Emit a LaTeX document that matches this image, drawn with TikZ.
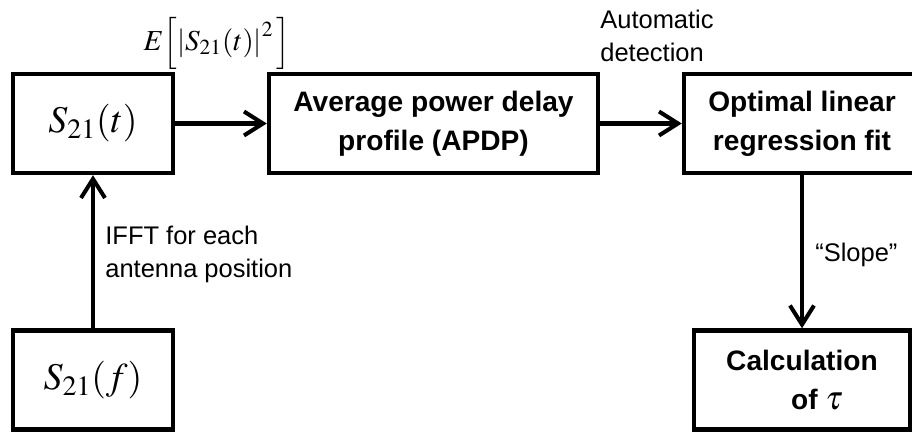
\documentclass[tikz,border=0pt]{standalone}
\usepackage{mathptmx}
\usepackage[no-math]{fontspec}
\setmainfont{Liberation Sans}
\usepackage{tikz}
\usetikzlibrary{arrows.meta}

\begin{document}
\begin{tikzpicture}[
  mbox/.style={
    rectangle, draw=black, line width=2.5pt,
    minimum width=3.2cm, minimum height=1.98cm,
    align=center, font=\fontsize{21.5}{25}\selectfont
  },
  tbox/.style={
    rectangle, draw=black, line width=2.5pt,
    minimum height=1.98cm, inner sep=2pt,
    align=center, font=\fontsize{16}{22}\selectfont\bfseries
  },
  lbl/.style={inner sep=0pt, align=left, font=\fontsize{14.5}{18.5}\selectfont},
  arr/.style={-{Straight Barb[length=3.8mm,width=4.8mm]}, line width=2.3pt}
]
\useasboundingbox (0,0) rectangle (18.24,-8.64);

%=== SIGNAL BOXES ===
\node[mbox] (sf) at (1.86,-7.60) {$S_{21}(f)$};
\node[mbox] (st) at (1.86,-2.47) {$S_{21}(t)$};

%=== PROCESSING STEPS ===
\node[tbox, minimum width=6.58cm] (apdp) at (8.67,-2.47)
  {Average power delay\\profile (APDP)};
\node[tbox, minimum width=4.72cm] (fit) at (16.04,-2.47)
  {Optimal linear\\regression fit};
\node[tbox, minimum width=4.32cm] (calc) at (16.04,-7.60)
  {Calculation\\\hspace*{0.6cm}of~{\fontsize{19}{22}\selectfont$\tau$}};

%=== ARROWS ===
\draw[arr] (sf) -- (st);
\draw[arr] (st) -- (apdp);
\draw[arr] (apdp) -- (fit);
\draw[arr] (fit) -- (calc);

%=== LABELS ===
\node[font=\fontsize{16.5}{20}\selectfont, inner sep=0pt] (elbl) at (4.34,-0.86)
  {$E\!\left[\left|S_{21}(t)\right|^{2}\,\right]$};
\node[lbl, anchor=west] (ifft) at (2.10,-5.09)
  {IFFT for each\\antenna position};
\node[lbl, anchor=north west] (auto) at (12.00,-0.20)
  {Automatic\\detection};
\node[lbl, anchor=west] (slope) at (16.30,-5.10) {``Slope''};

\end{tikzpicture}
\end{document}
